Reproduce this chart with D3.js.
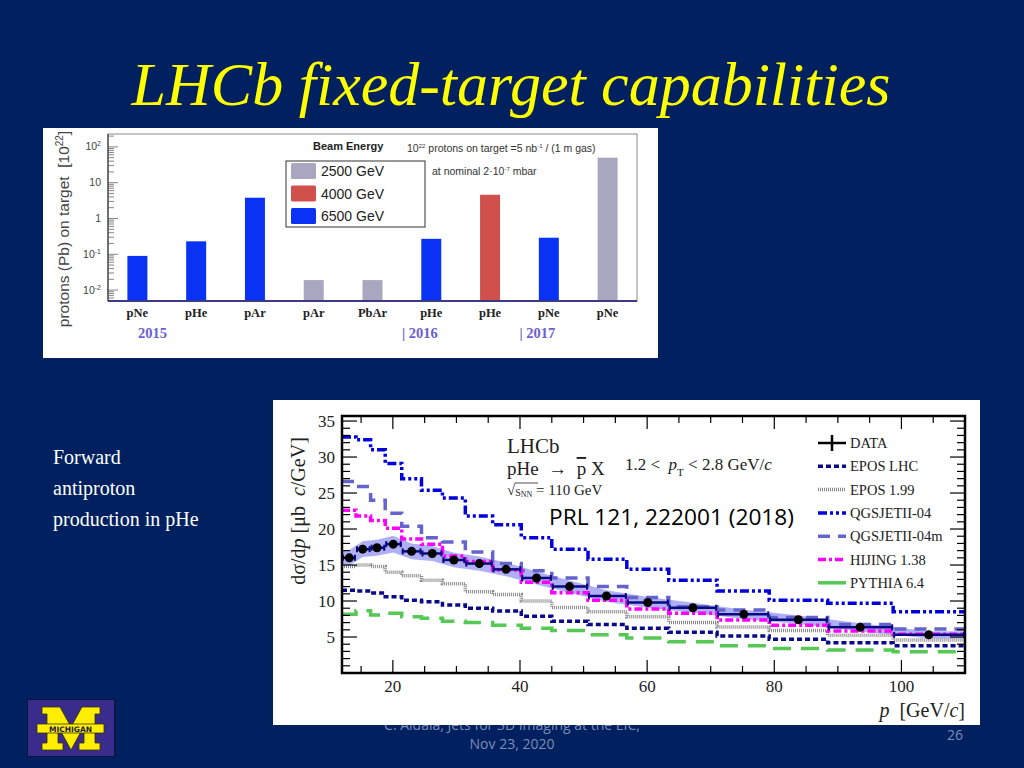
<!DOCTYPE html>
<html><head><meta charset="utf-8">
<script src="https://cdn.jsdelivr.net/npm/d3@7"></script>
<style>html,body{margin:0;padding:0;background:#002060;}svg{display:block;}</style>
</head><body>
<svg id="c" width="1024" height="768"></svg>
<script>
// ---------- DATA: top chart ----------
const topCategories = ["pNe","pHe","pAr","pAr","PbAr","pHe","pHe","pNe","pNe"];
const topValues = [0.09,0.23,3.8,0.019,0.019,0.27,4.6,0.29,50];
const topEnergies = [6500,6500,6500,2500,2500,6500,4000,6500,2500];
const energyLevels = [2500,4000,6500];
const energyLabels = ["2500 GeV","4000 GeV","6500 GeV"];
const topYTicks = [0.01,0.1,1,10,100];
const yearLabels = ["2015","| 2016","| 2017"];
const yearAnchorIdx = [0,4.5,6.5];

// ---------- DATA: bottom chart ----------
const binEdges = [12,14.2,16.5,18.8,21.4,24.5,27.8,31.4,35.7,40.2,45.0,50.7,56.8,63.4,71.0,79.2,88.4,98.7,110];
const dataP = [13.15,15.25,17.5,20.06,22.95,26.2,29.6,33.6,37.8,42.6,47.8,53.6,60.1,67.2,75.2,83.8,93.5,104.3];
const dataV = [16.0,17.2,17.4,17.9,16.9,16.6,15.7,15.2,14.4,13.2,12.0,10.7,9.8,9.07,8.15,7.4,6.35,5.3];
const dataUnc = [1.1,1.1,1.1,1.15,1.1,1.05,1.0,1.0,0.95,0.9,0.85,0.8,0.75,0.7,0.65,0.6,0.55,0.5];
const eposLHC = [11.5,11.4,11.1,10.6,10.1,9.9,9.45,9.0,8.6,7.9,7.2,6.75,6.2,5.65,5.15,4.7,4.2,3.8];
const epos199 = [14.8,15.0,14.8,14.0,13.5,12.9,12.4,11.3,10.9,10.0,9.1,8.5,7.8,7.0,6.4,5.9,5.25,4.6];
const qgsjet04 = [32.8,32.4,31.0,29.1,27.0,25.4,24.3,21.8,20.6,18.8,17.2,15.8,14.4,12.9,11.4,10.1,9.7,8.5];
const qgsjet04m = [26.6,25.9,24.0,22.2,20.4,18.8,18.2,16.8,15.2,14.2,13.2,12.0,10.5,9.2,8.75,7.7,6.75,6.1];
const hijing = [22.6,21.8,21.2,20.1,18.6,17.9,16.25,15.5,14.3,12.6,11.15,10.1,8.9,8.3,7.35,6.65,5.85,5.4];
const pythia = [8.15,8.65,8.05,8.3,7.8,7.6,7.2,7.0,6.65,6.2,5.9,5.3,4.85,4.35,3.8,3.4,3.2,2.95];
const modelNames = ["EPOS LHC","EPOS 1.99","QGSJETII-04","QGSJETII-04m","HIJING 1.38","PYTHIA 6.4"];
const bottomXTicks = [20,40,60,80,100];
const bottomYTicks = [5,10,15,20,25,30,35];

// ---------- STYLES ----------
const energyColor = d3.scaleOrdinal().domain(energyLevels).range(["#a9a6bf","#d0504c","#0a32f5"]);
const modelStyles = [
  {c:"#0a0a8a", w:3.5, d:"5,3"},
  {c:"#8a8a8a", w:3.5, d:"1,1"},
  {c:"#0000dd", w:3.5, d:"9,3,3,3,3,3"},
  {c:"#6464cc", w:3.5, d:"12,8"},
  {c:"#ff00ff", w:3.5, d:"8,3,3,3"},
  {c:"#55c855", w:3.5, d:"18,10"}
];
const modelSeries = [eposLHC,epos199,qgsjet04,qgsjet04m,hijing,pythia];

const svg = d3.select("#c");
svg.append("rect").attr("width",1024).attr("height",768).attr("fill","#002060");

// Title
svg.append("text").attr("x",511).attr("y",105).attr("text-anchor","middle")
  .attr("font-family","Liberation Serif, Times New Roman, serif").attr("font-style","italic")
  .attr("font-size",62).attr("fill","#ffff00").text("LHCb fixed-target capabilities");

// Side text
["Forward","antiproton","production in pHe"].forEach((t,i)=>{
  svg.append("text").attr("x",53).attr("y",464+i*31).attr("fill","#ffffff")
    .attr("font-family","Liberation Serif, Times New Roman, serif").attr("font-size",20).text(t);
});

// Footer (drawn first, partly covered by chart)
const foot = svg.append("g").attr("font-family","Open Sans, sans-serif").attr("fill","#7d8db5").attr("font-size",14);
foot.append("text").attr("x",512).attr("y",730).attr("text-anchor","middle").text("C. Aidala, Jets for 3D Imaging at the EIC,");
foot.append("text").attr("x",512).attr("y",749).attr("text-anchor","middle").text("Nov 23, 2020");
foot.append("text").attr("x",955).attr("y",740).attr("text-anchor","middle").text("26");

// Michigan logo
const logo = svg.append("g");
logo.append("rect").attr("x",27.5).attr("y",699.5).attr("width",87).attr("height",57).attr("fill","#3a2c8c").attr("stroke","#111133").attr("stroke-width",1);
const mx=42, my=707, mw=58, mh=43;
const mpts=[[0,0],[18,0],[29,20],[40,0],[58,0],[58,7],[53,7],[53,36],[58,36],[58,43],[37,43],[37,36],[42,36],[42,19],[29,43],[16,19],[16,36],[21,36],[21,43],[0,43],[0,36],[5,36],[5,7],[0,7]];
logo.append("polygon").attr("points",mpts.map(p=>[mx+p[0]*mw/58,my+p[1]*mh/43].join(",")).join(" "))
  .attr("fill","#ffee00").attr("stroke","#333300").attr("stroke-width",0.8);
logo.append("rect").attr("x",37).attr("y",724).attr("width",67).attr("height",9).attr("fill","#ffee00").attr("stroke","#333300").attr("stroke-width",0.8);
logo.append("text").attr("x",70.5).attr("y",731.5).attr("text-anchor","middle").attr("font-family","DejaVu Sans, sans-serif")
  .attr("font-weight","bold").attr("font-size",7.5).attr("fill","#1a1a4a").text("MICHIGAN");

// ================= TOP CHART =================
const T = svg.append("g");
T.append("rect").attr("x",43).attr("y",128).attr("width",615).attr("height",230).attr("fill","#ffffff");
const tL=108,tR=637,tT=134,tB=301;
const xT = d3.scaleBand().domain(d3.range(topCategories.length)).range([tL,tR]).paddingInner(0.66).paddingOuter(0.33);
const yT = d3.scaleLog().domain([0.00495,229]).range([tB,tT]);

// frame
T.append("rect").attr("x",tL).attr("y",tT).attr("width",tR-tL).attr("height",tB-tT).attr("fill","none").attr("stroke","#8a8a8a").attr("stroke-width",1);

// bars
T.selectAll("rect.bar").data(topValues).join("rect").attr("class","bar")
  .attr("x",(d,i)=>xT(i)).attr("width",xT.bandwidth())
  .attr("y",d=>yT(d)).attr("height",d=>tB-yT(d))
  .attr("fill",(d,i)=>energyColor(topEnergies[i]));

// left axis with minor ticks
const minorT=[];
for(let e=-3;e<=2;e++){for(let k=1;k<=9;k++){const v=k*Math.pow(10,e); if(v>=yT.domain()[0]&&v<=yT.domain()[1]) minorT.push(v);}}
T.selectAll("line.mt").data(minorT).join("line").attr("x1",tL).attr("x2",d=>tL+(topYTicks.includes(+d.toPrecision(3))?10:6))
  .attr("y1",d=>yT(d)).attr("y2",d=>yT(d)).attr("stroke","#666").attr("stroke-width",0.8);
T.append("line").attr("x1",tL).attr("x2",tL).attr("y1",tT).attr("y2",tB).attr("stroke","#555").attr("stroke-width",1.5);
T.append("line").attr("x1",tL).attr("x2",tR).attr("y1",tB).attr("y2",tB).attr("stroke","#3c3a86").attr("stroke-width",2);

const tickLab = T.append("g").attr("font-family","Liberation Sans, Arial, sans-serif").attr("fill","#444").attr("font-size",10.5);
topYTicks.forEach(v=>{
  const e=Math.round(Math.log10(v));
  const t=tickLab.append("text").attr("x",101).attr("y",yT(v)+3.5).attr("text-anchor","end");
  if(e===0) t.text("1");
  else if(e===1) t.text("10");
  else { t.append("tspan").text("10"); t.append("tspan").attr("dy",-4).attr("font-size",7).text(e); }
});

// y label
const ylT = T.append("text").attr("transform","translate(69,229) rotate(-90)").attr("text-anchor","middle")
  .attr("font-family","Liberation Sans, Arial, sans-serif").attr("font-size",15.5).attr("fill","#444").attr("xml:space","preserve");
ylT.append("tspan").text("protons (Pb) on target  [10");
ylT.append("tspan").attr("dy",-6).attr("font-size",10).text("22");
ylT.append("tspan").attr("dy",6).text("]");

// x category labels
T.selectAll("text.cat").data(topCategories).join("text").attr("class","cat")
  .attr("x",(d,i)=>xT(i)+xT.bandwidth()/2).attr("y",317).attr("text-anchor","middle")
  .attr("font-family","Liberation Serif, Times New Roman, serif").attr("font-weight","bold").attr("font-size",12.5).attr("fill","#222")
  .text(d=>d);
// year labels
yearLabels.forEach((t,i)=>{
  const idx=yearAnchorIdx[i];
  const x = idx===0 ? xT(0)+xT.bandwidth()/2+15 : xT(Math.floor(idx))+xT.bandwidth()/2+xT.step()/2;
  T.append("text").attr("x",x).attr("y",338).attr("text-anchor",idx===0?"middle":"start")
    .attr("font-family","Liberation Serif, Times New Roman, serif").attr("font-weight","bold").attr("font-size",14.5).attr("fill","#6a60d2")
    .attr("xml:space","preserve").text(t);
});

// legend
T.append("text").attr("x",313).attr("y",150).attr("font-family","Liberation Sans, Arial, sans-serif").attr("font-weight","bold").attr("font-size",11).attr("fill","#222").text("Beam Energy");
T.append("rect").attr("x",286).attr("y",161).attr("width",139).attr("height",66).attr("fill","#fff").attr("stroke","#333").attr("stroke-width",1);
energyLevels.forEach((e,i)=>{
  const cy=171+i*22.5;
  T.append("rect").attr("x",291).attr("y",cy-8).attr("width",25).attr("height",16).attr("rx",1.5).attr("fill",energyColor(e));
  T.append("text").attr("x",321).attr("y",cy+5).attr("font-family","Liberation Sans, Arial, sans-serif").attr("font-size",14).attr("fill","#222").text(energyLabels[i]);
});
const note1 = T.append("text").attr("x",407).attr("y",152).attr("font-family","Liberation Sans, Arial, sans-serif").attr("font-size",10.5).attr("fill","#333");
note1.append("tspan").text("10");
note1.append("tspan").attr("dy",-4).attr("font-size",6).text("22");
note1.append("tspan").attr("dy",4).text(" protons on target =5 nb");
note1.append("tspan").attr("dy",-4).attr("font-size",6).text("-1");
note1.append("tspan").attr("dy",4).text(" / (1 m gas)");
const note2 = T.append("text").attr("x",432).attr("y",175).attr("font-family","Liberation Sans, Arial, sans-serif").attr("font-size",10.5).attr("fill","#333");
note2.append("tspan").text("at nominal 2·10");
note2.append("tspan").attr("dy",-4).attr("font-size",6).text("-7");
note2.append("tspan").attr("dy",4).text(" mbar");

// ================= BOTTOM CHART =================
const B = svg.append("g");
B.append("rect").attr("x",273).attr("y",400).attr("width",707).attr("height",325).attr("fill","#ffffff");
const bL=342,bR=965,bT=416,bB=673;
const xB = d3.scaleLinear().domain([12,110]).range([bL,bR]);
const yB = d3.scaleLinear().domain([0,35.7]).range([bB,bT]);
B.append("clipPath").attr("id","pc").append("rect").attr("x",bL).attr("y",bT).attr("width",bR-bL).attr("height",bB-bT);
const plot = B.append("g").attr("clip-path","url(#pc)");

// data band
const bandX = [binEdges[0],...dataP,binEdges[binEdges.length-1]];
const bandLo = [dataV[0]-dataUnc[0],...dataV.map((v,i)=>v-dataUnc[i]),dataV[dataV.length-1]-dataUnc[dataUnc.length-1]];
const bandHi = [dataV[0]+dataUnc[0],...dataV.map((v,i)=>v+dataUnc[i]),dataV[dataV.length-1]+dataUnc[dataUnc.length-1]];
plot.append("path").datum(bandX.map((x,i)=>({x,lo:bandLo[i],hi:bandHi[i]})))
  .attr("d",d3.area().x(d=>xB(d.x)).y0(d=>yB(d.lo)).y1(d=>yB(d.hi)))
  .attr("fill","#7a7af0").attr("opacity",0.6);

// model step histograms
const stepLine = d3.line().x(d=>xB(d[0])).y(d=>yB(d[1])).curve(d3.curveStepAfter);
modelSeries.forEach((vals,m)=>{
  const pts = vals.map((v,i)=>[binEdges[i],v]); pts.push([binEdges[binEdges.length-1],vals[vals.length-1]]);
  plot.append("path").attr("d",stepLine(pts)).attr("fill","none")
    .attr("stroke",modelStyles[m].c).attr("stroke-width",modelStyles[m].w).attr("stroke-dasharray",modelStyles[m].d);
});

// data points
dataV.forEach((v,i)=>{
  plot.append("line").attr("x1",xB(binEdges[i])).attr("x2",xB(binEdges[i+1])).attr("y1",yB(v)).attr("y2",yB(v))
    .attr("stroke","#0a0a80").attr("stroke-width",2.5);
  plot.append("line").attr("x1",xB(binEdges[i])+1).attr("x2",xB(binEdges[i])+1).attr("y1",yB(v)-3).attr("y2",yB(v)+3).attr("stroke","#0a0a80").attr("stroke-width",2);
  plot.append("line").attr("x1",xB(binEdges[i+1])-1).attr("x2",xB(binEdges[i+1])-1).attr("y1",yB(v)-3).attr("y2",yB(v)+3).attr("stroke","#0a0a80").attr("stroke-width",2);
});
plot.selectAll("circle.dp").data(dataV).join("circle").attr("class","dp")
  .attr("cx",(d,i)=>xB(dataP[i])).attr("cy",d=>yB(d)).attr("r",4.5).attr("fill","#000");

// ticks
const tk = B.append("g").attr("stroke","#000").attr("stroke-width",1.2);
for(let v=1; v<=35; v++){
  const L = v%5===0?15:8;
  tk.append("line").attr("x1",bL).attr("x2",bL+L).attr("y1",yB(v)).attr("y2",yB(v));
  tk.append("line").attr("x1",bR).attr("x2",bR-L).attr("y1",yB(v)).attr("y2",yB(v));
}
for(let v=15; v<=110; v+=5){
  const L = v%20===0?13:7;
  tk.append("line").attr("x1",xB(v)).attr("x2",xB(v)).attr("y1",bB).attr("y2",bB-L);
  tk.append("line").attr("x1",xB(v)).attr("x2",xB(v)).attr("y1",bT).attr("y2",bT+L);
}
B.append("rect").attr("x",bL).attr("y",bT).attr("width",bR-bL).attr("height",bB-bT).attr("fill","none").attr("stroke","#000").attr("stroke-width",2.5);

const serif = "Liberation Serif, Times New Roman, serif";
B.selectAll("text.yt").data(bottomYTicks).join("text").attr("class","yt")
  .attr("x",335).attr("y",d=>yB(d)+6).attr("text-anchor","end").attr("font-family",serif).attr("font-size",17).attr("fill","#222").text(d=>d);
B.selectAll("text.xt").data(bottomXTicks).join("text").attr("class","xt")
  .attr("x",d=>xB(d)).attr("y",692).attr("text-anchor","middle").attr("font-family",serif).attr("font-size",17).attr("fill","#222").text(d=>d);

// axis titles
const xl = B.append("text").attr("x",965).attr("y",717).attr("text-anchor","end").attr("font-family",serif).attr("font-size",20).attr("fill","#222").attr("xml:space","preserve");
xl.append("tspan").attr("font-style","italic").text("p");
xl.append("tspan").text("  [GeV/");
xl.append("tspan").attr("font-style","italic").text("c");
xl.append("tspan").text("]");
const yl = B.append("text").attr("transform","translate(305,511) rotate(-90)").attr("text-anchor","middle").attr("font-family",serif).attr("font-size",20).attr("fill","#222").attr("xml:space","preserve");
yl.append("tspan").text("dσ/d");
yl.append("tspan").attr("font-style","italic").text("p");
yl.append("tspan").text(" [μb  ");
yl.append("tspan").attr("font-style","italic").text("c");
yl.append("tspan").text("/GeV]");

// annotations
B.append("text").attr("x",507).attr("y",453).attr("font-family",serif).attr("font-size",21).attr("fill","#222").text("LHCb");
const r1 = B.append("text").attr("x",507).attr("y",475).attr("font-family",serif).attr("font-size",19).attr("fill","#222").attr("xml:space","preserve");
r1.append("tspan").text("pHe  →  ");
r1.append("tspan").attr("text-decoration","overline").text("p");
r1.append("tspan").text(" X");
const r2 = B.append("text").attr("x",507).attr("y",495).attr("font-family",serif).attr("font-size",15).attr("fill","#222");
r2.append("tspan").text("√");
r2.append("tspan").attr("font-size",10).attr("dy",1).text("S");
r2.append("tspan").attr("font-size",8).attr("dy",1).text("NN");
r2.append("tspan").attr("dy",-2).text(" = 110 GeV");
B.append("line").attr("x1",515).attr("x2",538).attr("y1",483).attr("y2",483).attr("stroke","#222").attr("stroke-width",0.8);
const r3 = B.append("text").attr("x",625).attr("y",470).attr("font-family",serif).attr("font-size",17).attr("fill","#222").attr("xml:space","preserve");
r3.append("tspan").text("1.2 <  ");
r3.append("tspan").attr("font-style","italic").text("p");
r3.append("tspan").attr("font-size",11).attr("dy",6).text("T");
r3.append("tspan").attr("dy",-6).text(" < 2.8 GeV/");
r3.append("tspan").attr("font-style","italic").text("c");
B.append("text").attr("x",549).attr("y",525).attr("font-family","Open Sans, Liberation Sans, sans-serif").attr("font-size",22)
  .attr("fill","#000").attr("textLength",245).attr("lengthAdjust","spacingAndGlyphs").text("PRL 121, 222001 (2018)");

// legend
const lg = B.append("g");
const lgY0 = 443, lgDY = 23.3;
lg.append("line").attr("x1",818).attr("x2",846).attr("y1",lgY0).attr("y2",lgY0).attr("stroke","#000").attr("stroke-width",2.5);
lg.append("line").attr("x1",832).attr("x2",832).attr("y1",lgY0-8).attr("y2",lgY0+8).attr("stroke","#000").attr("stroke-width",2.5);
lg.append("text").attr("x",850).attr("y",lgY0+5).attr("font-family",serif).attr("font-size",14.5).attr("fill","#222").text("DATA");
modelNames.forEach((n,i)=>{
  const y = lgY0+(i+1)*lgDY;
  lg.append("line").attr("x1",818).attr("x2",846).attr("y1",y).attr("y2",y)
    .attr("stroke",modelStyles[i].c).attr("stroke-width",modelStyles[i].w).attr("stroke-dasharray",i===5?null:modelStyles[i].d);
  lg.append("text").attr("x",850).attr("y",y+5).attr("font-family",serif).attr("font-size",14.5).attr("fill","#222").text(n);
});
</script>
</body></html>
